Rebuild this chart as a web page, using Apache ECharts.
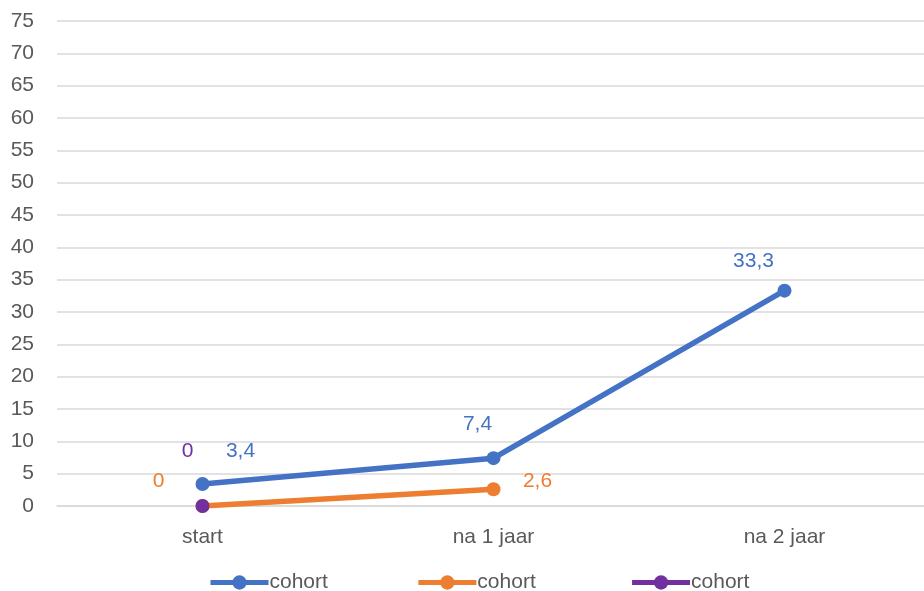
<!DOCTYPE html>
<html><head><meta charset="utf-8">
<script src="https://cdn.jsdelivr.net/npm/echarts@6/dist/echarts.min.js"></script>
<style>html,body{margin:0;padding:0;background:#fff;overflow:hidden}#c{width:930px;height:591px}</style>
</head><body><div id="c"></div>
<script>
const categories = ['start', 'na 1 jaar', 'na 2 jaar'];
const seriesNames = ['cohort', 'cohort', 'cohort'];
const blueValues = [3.4, 7.4, 33.3];
const orangeValues = [0, 2.6, null];
const purpleValues = [0, null, null];
const yTicks = {min: 0, max: 75, interval: 5};

const colors = ['#4472C4', '#ED7D31', '#7030A0'];
const labelOffsets = [
  [[38, -33], [-16, -34], [-31, -29]],
  [[-44, -25], [44, -8], [0, 0]],
  [[-15, -55], [0, 0], [0, 0]]
];
const fmt = v => String(v).replace('.', ',');
const allValues = [blueValues, orangeValues, purpleValues];
const font = 'Liberation Sans, Arial, sans-serif';
const fs = 21;

const chart = echarts.init(document.getElementById('c'));
chart.setOption({
  animation: false,
  textStyle: {fontFamily: font},
  grid: {left: 57, right: 0, top: 21, bottom: 85},
  legend: {
    top: 572, left: 208, padding: 0, itemWidth: 58, itemHeight: 18, itemGap: 88,
    textStyle: {color: '#595959', fontSize: fs, fontFamily: font, padding: [0, 0, 0, -4]},
    lineStyle: {width: 5},
    data: [0,1,2].map(i => ({name: 'cohort' + ' '.repeat(i)}))
  },
  xAxis: {
    type: 'category', data: categories, boundaryGap: true,
    axisLine: {lineStyle: {color: '#d9d9d9', width: 1.5}},
    axisTick: {show: false},
    axisLabel: {color: '#595959', fontSize: fs, margin: 21, fontFamily: font}
  },
  yAxis: {
    type: 'value', min: yTicks.min, max: yTicks.max, interval: yTicks.interval,
    axisLine: {show: false}, axisTick: {show: false},
    splitLine: {lineStyle: {color: '#d9d9d9', width: 1.5}},
    axisLabel: {color: '#595959', fontSize: fs, margin: 23, fontFamily: font}
  },
  series: allValues.map((vals, si) => ({
    name: seriesNames[si] + ' '.repeat(si),
    type: 'line',
    color: colors[si],
    symbol: 'circle', symbolSize: 14,
    lineStyle: {width: 5.5, color: colors[si]},
    itemStyle: {color: colors[si]},
    z: 2 + si,
    data: vals.map((v, i) => v === null ? null : {
      value: v,
      label: {show: true, position: 'inside', offset: labelOffsets[si][i],
        formatter: p => fmt(p.value), color: colors[si], fontSize: fs, fontFamily: font}
    })
  }))
});
</script></body></html>
